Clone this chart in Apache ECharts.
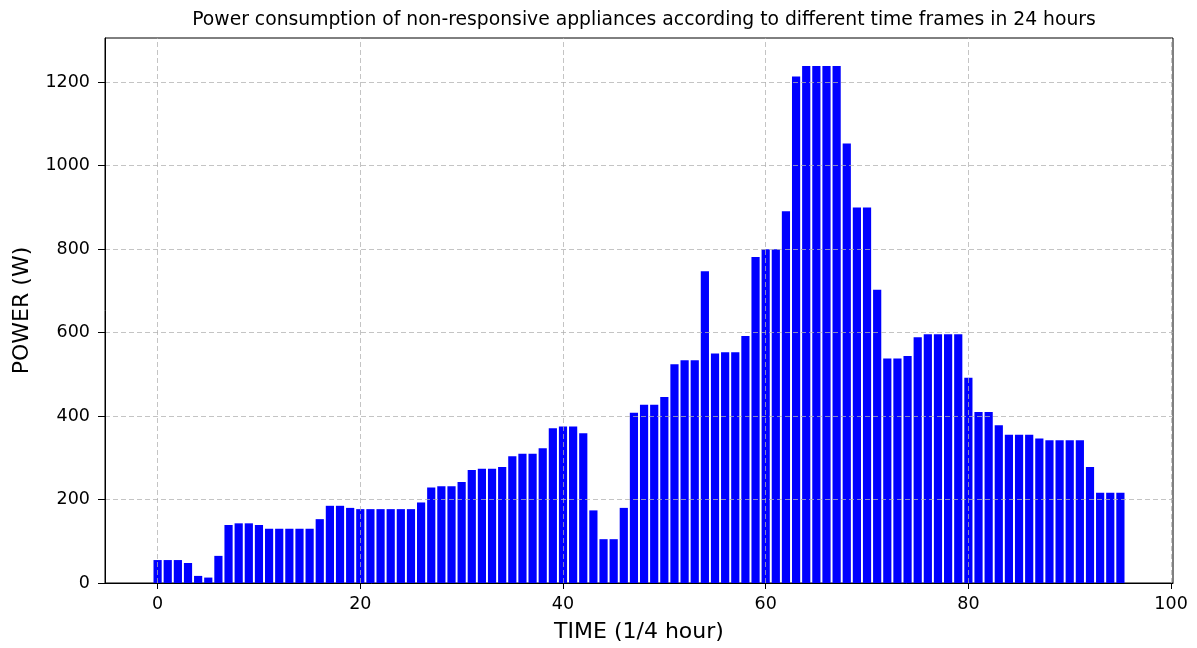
<!DOCTYPE html>
<html>
<head>
<meta charset="utf-8">
<script src="https://cdn.jsdelivr.net/npm/echarts@6/dist/echarts.min.js"></script>
<style>
  html, body { margin: 0; padding: 0; background: #fff; }
  #chart { width: 1197px; height: 648px; }
</style>
</head>
<body>
<div id="chart"></div>
<script>
// power per quarter hour slot (W), slots 0..95
var powerValues = [
  55, 55, 55, 48, 17, 13, 65, 139, 143, 143,
  139, 130, 130, 130, 130, 130, 153, 185, 185, 180,
  177, 177, 177, 177, 177, 177, 193, 229, 232, 232,
  242, 271, 274, 274, 278, 304, 310, 310, 323, 371,
  375, 375, 359, 174, 105, 105, 180, 408, 427, 427,
  446, 524, 534, 534, 747, 550, 553, 553, 592, 781,
  800, 800, 891, 1214, 1239, 1239, 1239, 1239, 1053, 900,
  900, 703, 538, 538, 544, 589, 596, 596, 596, 596,
  492, 410, 410, 378, 355, 355, 355, 346, 342, 342,
  342, 342, 278, 216, 216, 216
];
var xTicks = [0, 20, 40, 60, 80, 100];
var yTicks = [0, 200, 400, 600, 800, 1000, 1200];

var FONT = 'DejaVu Sans';

function draw(id){
	var myChart = echarts.init(document.getElementById(id));
	var barData = powerValues.map(function(v, i){ return [i, v]; });

	// matplotlib draws the grid above the bars, so use markLine instead of splitLine
	var gridLines = [];
	xTicks.forEach(function(t){ gridLines.push({xAxis: t}); });
	yTicks.forEach(function(t){ gridLines.push({yAxis: t}); });

	var option = {
		animation: false,
		title: {
			text: 'Power consumption of non-responsive appliances according to different time frames in 24 hours',
			left: 639,
			textAlign: 'center',
			top: 6,
			textStyle: {
				fontFamily: FONT,
				fontSize: 18.75,
				fontWeight: 'normal',
				color: '#000'
			}
		},
		grid: {
			left: 105,
			top: 38,
			width: 1068,
			height: 546,
			show: true,
			borderColor: '#000',
			borderWidth: 1,
			backgroundColor: '#fff'
		},
		xAxis: {
			type: 'value',
			z: 5,
			min: -5.19,
			max: 100.19,
			name: 'TIME (1/4 hour)',
			nameLocation: 'middle',
			nameGap: 38,
			nameTextStyle: { fontFamily: FONT, fontSize: 22, color: '#000' },
			axisLine: { onZero: false, lineStyle: { color: '#000', width: 1 } },
			axisTick: { show: true, length: 6, customValues: xTicks, lineStyle: { color: '#000' } },
			axisLabel: { customValues: xTicks, fontFamily: FONT, fontSize: 17.5, color: '#000', margin: 12 },
			splitLine: { show: false }
		},
		yAxis: {
			type: 'value',
			z: 5,
			min: 0,
			max: 1306,
			interval: 200,
			name: 'POWER (W)',
			nameLocation: 'middle',
			nameGap: 72,
			nameTextStyle: { fontFamily: FONT, fontSize: 22, color: '#000' },
			axisLine: { show: true, onZero: false, lineStyle: { color: '#000', width: 1 } },
			axisTick: { show: true, length: 7, lineStyle: { color: '#000' } },
			axisLabel: {
				fontFamily: FONT, fontSize: 17.5, color: '#000', margin: 15, showMaxLabel: false,
				formatter: function(v){ return String(v); }
			},
			splitLine: { show: false }
		},
		series: [{
			name: 'POWER',
			type: 'bar',
			data: barData,
			barWidth: 8.2,
			itemStyle: { color: '#0000ff' },
			markLine: {
				silent: true,
				symbol: 'none',
				label: { show: false },
				lineStyle: { color: 'rgba(176,176,176,0.75)', width: 1, type: [5, 3] },
				data: gridLines
			}
		}]
	};
	myChart.setOption(option, true);
}

draw('chart');
</script>
</body>
</html>
